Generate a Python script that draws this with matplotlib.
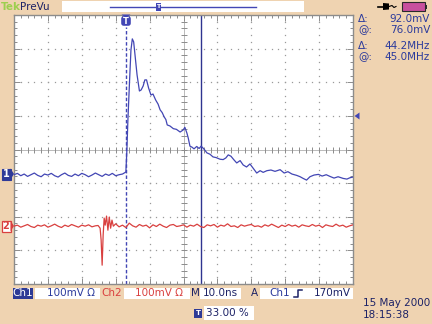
import matplotlib
matplotlib.use("Agg")
import matplotlib.pyplot as plt
from matplotlib.patches import Rectangle, FancyBboxPatch, Polygon
import numpy as np

plt.rcParams['font.family'] = ['DejaVu Sans']

# ---------------- data (time in ns, voltage in mV relative to screen centre) ----------
ch1_t = [0, 1, 2, 3, 4, 5, 6, 7, 8, 9, 10, 11, 12, 13, 14, 15, 16, 17, 18, 19, 20,
         21, 22, 23, 24, 25, 26, 27, 28, 29, 30, 31, 32,
         33.0, 33.3, 33.6, 34.1, 34.5, 34.9, 35.3, 35.7, 36.3, 37.0,
         37.5, 38.1, 38.6, 39.1, 39.7, 40.4, 41.0, 41.8, 42.5, 43.1,
         43.7, 44.3, 44.8, 45.2, 46.0, 47.0, 47.9, 49.0, 49.9, 50.4,
         51.0, 51.4, 51.9, 52.5, 53.1, 53.9, 54.6, 55.2, 55.8, 56.3,
         56.9, 57.8, 58.7, 59.6, 60.8, 61.7, 62.5, 63.2, 64.0, 64.9,
         65.7, 66.7, 67.6, 68.6, 69.6, 70.5, 71.6, 72.6, 73.5, 74.6,
         75.8, 77.0, 78.5, 79.7, 80.8, 82.0, 83.4, 84.4, 85.3, 86.3,
         87.3, 88.5, 89.8, 90.9, 92.1, 93.2, 94.4, 95.6, 97.1, 98.2,
         99.1, 100.0]
ch1_mv = [-75, -71, -78, -73, -80, -75, -70, -77, -81, -73, -76, -71, -78, -82, -75, -70, -77,
          -80, -73, -78, -71, -75, -81, -76, -70, -75, -80, -73, -77, -71, -78, -75, -73,
          -67, -2, 88, 207, 296, 329, 320, 281, 222, 174,
          177, 189, 207, 207, 183, 162, 165, 147, 135, 118,
          110, 97, 89, 73, 70, 62, 60, 52, 58, 66,
          49, 34, 10, 7, 2, 9, 3, 10, 4, -2,
          -10, -14, -22, -24, -29, -30, -25, -16, -20, -31,
          -40, -33, -46, -52, -43, -55, -70, -63, -68, -63,
          -61, -65, -60, -70, -66, -73, -77, -81, -86, -91,
          -81, -76, -74, -79, -75, -80, -85, -81, -86, -88,
          -84, -82]

ch2_t = [0, 1, 2, 3, 4, 5, 6, 7, 8, 9, 10, 11, 12, 13, 14, 15, 16, 17, 18, 19, 20,
         21, 22, 23, 24,
         24.8, 25.4, 25.7, 26.0, 26.3, 26.6, 26.9, 27.3, 27.7, 28.1, 28.5, 28.9, 29.3,
         30, 31, 32, 33, 34, 35, 36, 37, 38, 39, 40, 41, 42, 43, 44, 45, 46, 47, 48, 49,
         50, 51, 52, 53, 54, 55, 56, 57, 58, 59, 60, 61, 62, 63, 64, 65, 66, 67, 68, 69,
         70, 71, 72, 73, 74, 75, 76, 77, 78, 79, 80, 81, 82, 83, 84, 85, 86, 87, 88, 89,
         90, 91, 92, 93, 94, 95, 96, 97, 98, 99, 100]
ch2_mv = [-228, -225, -231, -227, -223, -229, -232, -225, -228, -224, -231, -227, -222,
          -228, -232, -225, -229, -223, -227, -231, -225, -228, -224, -230, -227,
          -226, -234, -269, -344, -254, -204, -225, -198, -240, -201, -234, -210, -228,
          -221, -230, -225, -232, -219, -227, -231, -223, -228, -225, -233, -224, -229,
          -222, -228, -232, -225, -223, -229, -227,
          -224, -231, -225, -228, -222, -229, -232, -224, -227, -223, -231, -225, -228,
          -221, -229, -227, -232, -224, -228, -225,
          -223, -229, -227, -231, -224, -228, -222, -227, -232, -225, -229, -223, -228,
          -225, -231, -224, -227, -229, -223, -228,
          -225, -232, -224, -227, -229, -222, -228, -225, -231, -227, -224]

bottom_labels = ["100mV \u03a9", "100mV \u03a9", "10.0ns", "170mV"]
readouts = [("\u0394:", "92.0mV"), ("@:", "76.0mV"), ("\u0394:", "44.2MHz"), ("@:", "45.0MHz")]
trigger_pos = "33.00 %"
date_str = "15 May 2000"
time_str = "18:15:38"

# ---------------- colours ----------------
BG = '#EFD3B1'
NAVY = '#1C2266'
BLUE = '#4246B4'
RED = '#D9403F'
GRIDC = '#9A9A9A'
TXTBLUE = '#2B3A9C'

W, H = 432, 324
fig = plt.figure(figsize=(W / 100, H / 100), dpi=100)
fig.patch.set_facecolor(BG)

# overlay axes in pixel coordinates for decorations
ov = fig.add_axes([0, 0, 1, 1])
ov.set_xlim(0, W)
ov.set_ylim(H, 0)
ov.axis('off')

# plot (graticule) area
L, T, R, B = 14, 15, 353, 284
ax = fig.add_axes([L / W, (H - B) / H, (R - L) / W, (B - T) / H])
ax.set_zorder(1)
ax.set_facecolor('white')
ax.set_xlim(0, 100)
ax.set_ylim(-400, 400)
for s in ax.spines.values():
    s.set_color('#8C8C8C')
    s.set_linewidth(1.0)
ax.set_xticks(np.arange(0, 101, 10))
ax.set_yticks(np.arange(-400, 401, 100))
ax.set_xticks(np.arange(0, 101, 2), minor=True)
ax.set_yticks(np.arange(-400, 401, 20), minor=True)
ax.tick_params(which='both', direction='in', top=True, right=True, bottom=True, left=True,
               labelbottom=False, labelleft=False, color='#8C8C8C', width=0.7)
ax.tick_params(which='major', length=4)
ax.tick_params(which='minor', length=2.5)

# dotted graticule
for xv in range(10, 100, 10):
    if xv == 50:
        continue
    yy = np.arange(-400, 401, 20)
    ax.plot(np.full_like(yy, xv, dtype=float), yy, ls='none', marker='s', ms=0.9,
            mec='none', mfc=GRIDC, zorder=1)
for yv in range(-300, 301, 100):
    if yv == 0:
        continue
    xx = np.arange(0, 101, 2)
    ax.plot(xx, np.full_like(xx, yv, dtype=float), ls='none', marker='s', ms=0.9,
            mec='none', mfc=GRIDC, zorder=1)
# centre lines with ticks
ax.axhline(0, color='#B0B0B0', lw=0.6, zorder=1)
ax.axvline(50, color='#B0B0B0', lw=0.6, zorder=1)
ax.plot(np.arange(0, 101, 2), np.zeros(51), ls='none', marker='|', ms=4, mew=0.7,
        color='#8C8C8C', zorder=1)
ax.plot(np.full(41, 50.0), np.arange(-400, 401, 20), ls='none', marker='_', ms=4, mew=0.7,
        color='#8C8C8C', zorder=1)

# trigger position line and cursor
ax.axvline(33, color=BLUE, lw=1.0, ls=(0, (2.5, 1.5)), ymax=0.955, zorder=2)
ax.axvline(55.2, color='#2F3490', lw=1.0, zorder=2)

# traces
ax.plot(ch2_t, ch2_mv, color=RED, lw=0.9, zorder=3)
ax.plot(ch1_t, ch1_mv, color=BLUE, lw=0.9, zorder=4)

# ---------------- header ----------------
ov.text(1, 6.5, "Tek", color='#9CCF4E', fontsize=7.5, fontweight='bold', va='center', ha='left')
ov.text(20, 6.5, "PreVu", color=NAVY, fontsize=7.5, va='center', ha='left')
ov.add_patch(Rectangle((62, 1), 242, 11, facecolor='white', edgecolor='none'))
ov.plot([110, 256], [6.5, 6.5], color=BLUE, lw=1.0)
ov.add_patch(Rectangle((155.5, 2.5), 5, 8, facecolor=BLUE, edgecolor='none'))
ov.text(158, 6.8, "T", color='white', fontsize=4.5, fontweight='bold', ha='center', va='center')
# plug icon
ov.plot([378, 384], [6.5, 6.5], color='black', lw=1.2)
ov.add_patch(Polygon([[383, 3], [389, 3.5], [389, 9.5], [383, 10]], closed=True,
                     facecolor='black', edgecolor='none'))
ov.plot([389, 392, 394, 396], [6.5, 5.5, 7.5, 6.5], color='black', lw=0.8)
# battery
ov.add_patch(Rectangle((402, 2), 23, 9, facecolor='#C8509E', edgecolor='#2A2A2A', lw=0.8))
ov.add_patch(Rectangle((425, 4.5), 2, 4, facecolor='#2A2A2A', edgecolor='none'))

# trigger T marker at top
ov.add_patch(FancyBboxPatch((122, 17), 8, 8, boxstyle='round,pad=0.8,rounding_size=2.5',
                            facecolor=BLUE, edgecolor='none', zorder=5))
ov.add_patch(Polygon([[121.5, 14.5], [130.5, 14.5], [126, 18]], closed=True, facecolor=BLUE,
                     edgecolor='none', zorder=5))
ov.text(126, 21.5, "T", color='white', fontsize=6, fontweight='bold', ha='center',
        va='center', zorder=6)
ov.set_zorder(2)
ov.patch.set_alpha(0)

# ---------------- right readouts ----------------
ys = [19, 30, 46, 57]
for (lab, val), yv in zip(readouts, ys):
    ov.text(358, yv, lab, color=TXTBLUE, fontsize=7.5, ha='left', va='center')
    ov.text(430, yv, val, color=TXTBLUE, fontsize=7.5, ha='right', va='center')
# trigger level arrow
ov.add_patch(Polygon([[354.5, 116], [359.5, 112.5], [359.5, 119.5]], closed=True,
                     facecolor=BLUE, edgecolor='none'))

# ---------------- channel ground markers ----------------
ov.add_patch(Rectangle((1.5, 168.5), 9, 11, facecolor='#2F3A98', edgecolor='#2F3A98', lw=0.8))
ov.add_patch(Polygon([[10.5, 168.5], [14, 174], [10.5, 179.5]], closed=True,
                     facecolor='#2F3A98', edgecolor='none'))
ov.text(6, 174.3, "1", color='white', fontsize=7, fontweight='bold', ha='center', va='center')
ov.add_patch(Rectangle((1.5, 220.5), 9, 11, facecolor='white', edgecolor=RED, lw=0.9))
ov.add_patch(Polygon([[10.5, 220.5], [14, 226], [10.5, 231.5]], closed=True,
                     facecolor=RED, edgecolor='none'))
ov.text(6, 226.3, "2", color=RED, fontsize=7, fontweight='bold', ha='center', va='center')

# ---------------- bottom status ----------------
by = 293.5
ov.add_patch(Rectangle((13, 288), 20, 11, facecolor='#2E3A96', edgecolor='none'))
ov.text(23, by, "Ch1", color='white', fontsize=7.5, ha='center', va='center')
ov.add_patch(Rectangle((35, 288), 65, 11, facecolor='white', edgecolor='none'))
ov.text(47, by, bottom_labels[0], color=TXTBLUE, fontsize=7.5, ha='left', va='center')
ov.text(112, by, "Ch2", color=RED, fontsize=7.5, ha='center', va='center')
ov.add_patch(Rectangle((124, 288), 66, 11, facecolor='white', edgecolor='none'))
ov.text(135, by, bottom_labels[1], color=RED, fontsize=7.5, ha='left', va='center')
ov.text(195, by, "M", color=NAVY, fontsize=7.5, ha='center', va='center')
ov.add_patch(Rectangle((200, 288), 41, 11, facecolor='white', edgecolor='none'))
ov.text(203, by, bottom_labels[2], color=NAVY, fontsize=7.5, ha='left', va='center')
ov.text(254, by, "A", color=NAVY, fontsize=7.5, ha='center', va='center')
ov.add_patch(Rectangle((260, 288), 93, 11, facecolor='white', edgecolor='none'))
ov.text(269, by, "Ch1", color=TXTBLUE, fontsize=7.5, ha='left', va='center')
ov.plot([294, 298, 298, 302], [297, 297, 290, 290], color=NAVY, lw=1.1)
ov.text(351, by, bottom_labels[3], color=NAVY, fontsize=7.5, ha='right', va='center')

ov.add_patch(Rectangle((194, 308.5), 8, 9, facecolor='#2E3A96', edgecolor='none'))
ov.text(198, 313.2, "T", color='white', fontsize=5, fontweight='bold', ha='center', va='center')
ov.add_patch(Rectangle((204, 306), 50, 14, facecolor='white', edgecolor='none'))
ov.text(206, 313.5, trigger_pos, color=NAVY, fontsize=7.5, ha='left', va='center')

ov.text(363, 303, date_str, color=NAVY, fontsize=7.5, ha='left', va='center')
ov.text(363, 315, time_str, color=NAVY, fontsize=7.5, ha='left', va='center')

assert len(ch1_t) == len(ch1_mv), (len(ch1_t), len(ch1_mv))
assert len(ch2_t) == len(ch2_mv), (len(ch2_t), len(ch2_mv))

fig.savefig("out.png", dpi=100, facecolor=BG)
